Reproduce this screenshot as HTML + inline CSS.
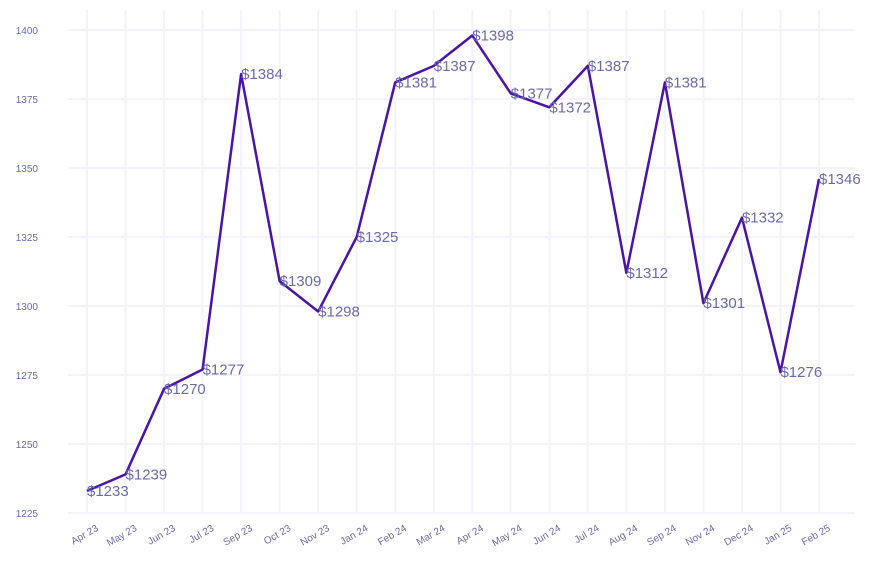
<!DOCTYPE html>
<html><head><meta charset="utf-8"><style>
body{margin:0;background:#fff;}
svg{font-family:"Liberation Sans",sans-serif;display:block}
</style></head><body>
<svg id="chart" width="873" height="565"></svg>
<script>
const categories=["Apr 23","May 23","Jun 23","Jul 23","Sep 23","Oct 23","Nov 23","Jan 24","Feb 24","Mar 24","Apr 24","May 24","Jun 24","Jul 24","Aug 24","Sep 24","Nov 24","Dec 24","Jan 25","Feb 25"];
const values=[1233,1239,1270,1277,1384,1309,1298,1325,1381,1387,1398,1377,1372,1387,1312,1381,1301,1332,1276,1346];
const yTicks=[1225,1250,1275,1300,1325,1350,1375,1400];
const NS="http://www.w3.org/2000/svg";
const svg=document.getElementById('chart');
const x=i=>87+i*(819-87)/(categories.length-1);
const y=v=>513-(v-1225)*(513-30)/175;
function mk(t,a){const e=document.createElementNS(NS,t);for(const k in a)e.setAttribute(k,a[k]);svg.appendChild(e);return e;}
yTicks.forEach(t=>{
 const g=mk('line',{x1:68,x2:855,y1:y(t),y2:y(t),stroke:'#f3f3fb','stroke-width':2});
 
 
 const l=mk('text',{x:38,y:y(t)+4,'text-anchor':'end','font-size':10,fill:'#6b6ba8'});
 l.textContent=t;
 
 
});
categories.forEach((c,i)=>{
 const g=mk('line',{x1:x(i),x2:x(i),y1:10,y2:513,stroke:'#f3f3fb','stroke-width':2});
 
 
 const tx=x(i)+12,ty=530;
 const l=mk('text',{x:tx,y:ty,'text-anchor':'end','font-size':10,fill:'#6b6ba8',transform:`rotate(-30 ${tx} ${ty})`});
 l.textContent=c;
 
 
});
const p=mk('polyline',{points:values.map((v,i)=>x(i)+','+y(v)).join(' '),fill:'none',stroke:'#4a14a8','stroke-width':2.5,'stroke-linejoin':'round'});


values.forEach((v,i)=>{
 const l=mk('text',{x:x(i),y:y(v)+5,'font-size':15,fill:'#6b6ba8'});
 l.textContent='$'+v;
 
 
});
</script>
</body></html>
